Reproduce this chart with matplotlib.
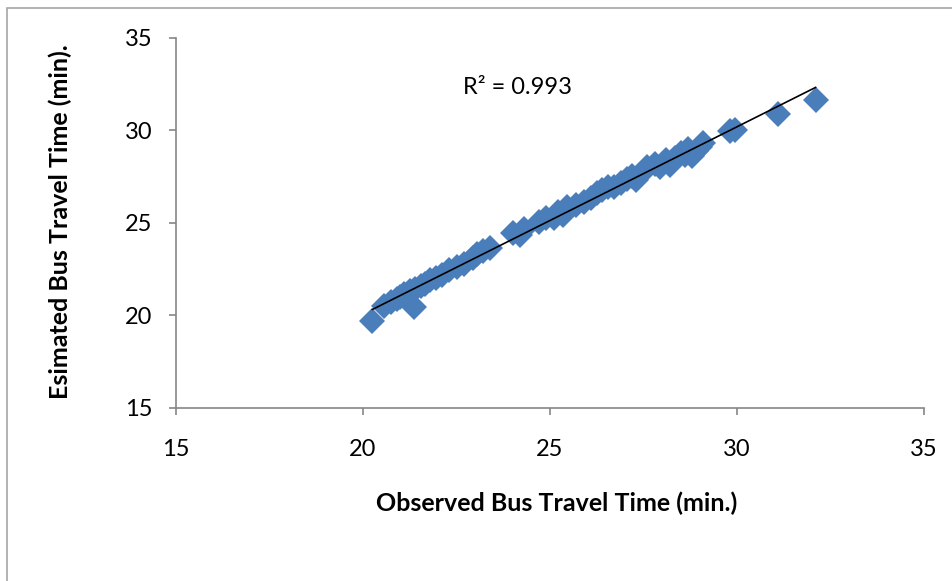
import matplotlib
matplotlib.use("Agg")
import matplotlib.pyplot as plt
from matplotlib.patches import Rectangle
import numpy as np

# observed vs estimated bus travel time (min.)
observed = [20.25, 20.55, 20.75, 20.9, 21.0, 21.1, 21.25, 21.35, 21.4, 21.55,
            21.65, 21.8, 21.95, 22.1, 22.3, 22.5, 22.7, 22.95, 23.05, 23.2,
            23.4, 24.0, 24.2, 24.3, 24.7, 24.9, 25.1, 25.2, 25.35, 25.45,
            25.7, 25.9, 26.1, 26.25, 26.4, 26.55, 26.7, 26.9, 27.05, 27.2,
            27.3, 27.45, 27.6, 27.8, 27.95, 28.1, 28.2, 28.35, 28.5, 28.6,
            28.7, 28.8, 28.9, 29.0, 29.1, 29.8, 29.95, 31.1, 32.1]
estimated = [19.7, 20.5, 20.75, 20.9, 21.0, 21.15, 21.3, 20.45, 21.45, 21.6,
             21.7, 21.9, 22.05, 22.2, 22.45, 22.6, 22.8, 23.1, 23.35, 23.5,
             23.65, 24.45, 24.35, 24.7, 25.05, 25.25, 25.25, 25.6, 25.45, 25.85,
             25.95, 26.15, 26.35, 26.6, 26.8, 26.95, 26.95, 27.15, 27.4, 27.55,
             27.35, 27.7, 28.0, 28.2, 28.05, 28.4, 28.15, 28.5, 28.8, 28.7,
             29.0, 28.6, 28.9, 29.1, 29.35, 29.95, 30.0, 30.9, 31.65]
r2_label = "R\u00b2 = 0.993"
ticks = [15, 20, 25, 30, 35]

plt.rcParams['font.family'] = ['Lato', 'DejaVu Sans']

fig = plt.figure(figsize=(9.53, 5.81), dpi=100)
ax = fig.add_axes([0.1847, 0.2978, 0.7849, 0.6368])

# chart area frame (cut off on the right and bottom)
fig.patches.append(Rectangle((0.0073, -0.2), 1.5, 0.986 + 0.2, transform=fig.transFigure,
                             fill=False, edgecolor='#A6A6A6', linewidth=1.2))

ax.plot(observed, estimated, 'D', color='#4A7EBB', markersize=13.5, markeredgewidth=0)

# linear trendline
coef = np.polyfit(observed, estimated, 1)
xs = np.array([min(observed), max(observed)])
ax.plot(xs, np.polyval(coef, xs), color='black', linewidth=1.2)

ax.text(22.67, 32.3, r2_label, fontsize=17, va='center', ha='left')

ax.set_xlim(15, 35)
ax.set_ylim(15, 35)
ax.set_xticks(ticks)
ax.set_yticks(ticks)
for s in ['top', 'right']:
    ax.spines[s].set_visible(False)
for s in ['left', 'bottom']:
    ax.spines[s].set_color('#868686')
    ax.spines[s].set_linewidth(1.2)
ax.tick_params(direction='out', length=5, width=1.2, color='#868686', labelsize=17)
ax.tick_params(axis='x', pad=17)
ax.tick_params(axis='y', pad=12)

fig.text(0.584, 0.134, "Observed Bus Travel Time (min.)", fontsize=18, fontweight='bold',
         ha='center', va='center')
fig.text(0.063, 0.618, "Esimated Bus Travel Time (min).", fontsize=18, fontweight='bold',
         ha='center', va='center', rotation=90)

plt.savefig("out.png", dpi=100)
